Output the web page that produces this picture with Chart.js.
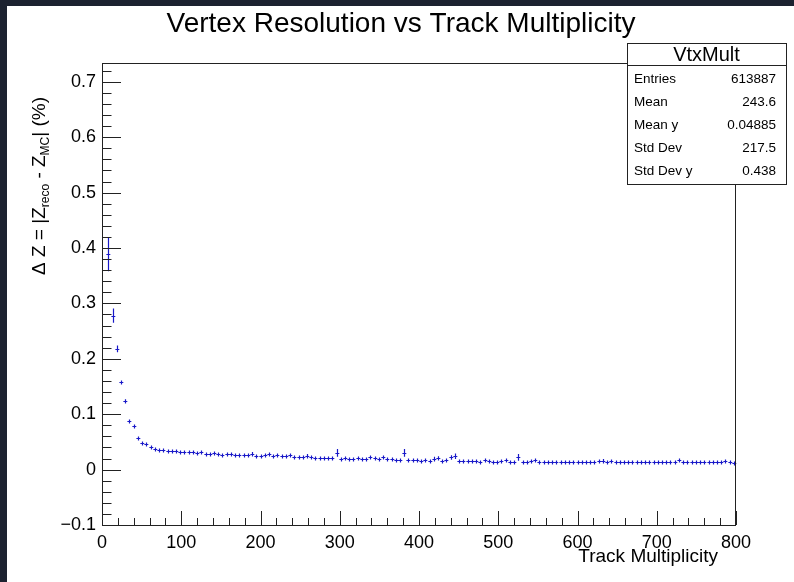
<!DOCTYPE html>
<html>
<head>
<meta charset="utf-8">
<title>Vertex Resolution vs Track Multiplicity</title>
<script src="https://cdn.jsdelivr.net/npm/chart.js@4.4.1/dist/chart.umd.min.js"></script>
<style>
  html, body { margin: 0; padding: 0; background: #fff; }
  canvas { display: block; }
</style>
</head>
<body>
<canvas id="chart" width="794" height="582"></canvas>
<script>
// profile of |Zreco - Zmc| vs number of tracks, 150 bins over 0..800
const nBins = 150;
const xMin = 0;
const xMax = 800;

const dzMean = [
  null,
  0.389, 0.278, 0.218, 0.158, 0.124, 0.088, 0.078, 0.057, 0.048, 0.047,
  0.041, 0.038, 0.036, 0.035, 0.034, 0.033, 0.033, 0.032, 0.032, 0.031,
  0.031, 0.030, 0.031, 0.029, 0.029, 0.030, 0.028, 0.027, 0.028, 0.028,
  0.027, 0.027, 0.026, 0.026, 0.029, 0.025, 0.025, 0.026, 0.028, 0.024,
  0.027, 0.024, 0.024, 0.026, 0.023, 0.023, 0.022, 0.025, 0.022, 0.021,
  0.021, 0.021, 0.021, 0.021, 0.030, 0.020, 0.021, 0.019, 0.019, 0.021,
  0.019, 0.020, 0.022, 0.021, 0.019, 0.022, 0.019, 0.019, 0.018, 0.017,
  0.030, 0.017, 0.017, 0.017, 0.016, 0.017, 0.016, 0.020, 0.021, 0.016,
  0.017, 0.022, 0.024, 0.015, 0.015, 0.015, 0.015, 0.015, 0.014, 0.017,
  0.015, 0.014, 0.014, 0.015, 0.017, 0.014, 0.014, 0.022, 0.014, 0.014,
  0.015, 0.017, 0.014, 0.014, 0.013, 0.013, 0.014, 0.013, 0.013, 0.013,
  0.013, 0.013, 0.013, 0.013, 0.013, 0.013, 0.015, 0.016, 0.013, 0.016,
  0.014, 0.013, 0.013, 0.013, 0.013, 0.013, 0.013, 0.013, 0.013, 0.013,
  0.013, 0.013, 0.013, 0.013, 0.014, 0.017, 0.014, 0.013, 0.013, 0.013,
  0.013, 0.013, 0.013, 0.013, 0.013, 0.013, 0.016, 0.013, 0.012
];

const dzErr = [
  0,
  0.031, 0.013, 0.006, 0.003, 0.003, 0.002, 0.002, 0.001, 0.001, 0.001,
  0.001, 0.001, 0.001, 0.001, 0.001, 0.001, 0.001, 0.001, 0.001, 0.001,
  0.001, 0.001, 0.001, 0.001, 0.001, 0.001, 0.001, 0.001, 0.001, 0.001,
  0.001, 0.001, 0.001, 0.001, 0.003, 0.001, 0.001, 0.001, 0.003, 0.001,
  0.002, 0.001, 0.001, 0.002, 0.001, 0.001, 0.001, 0.003, 0.001, 0.001,
  0.001, 0.001, 0.001, 0.001, 0.007, 0.001, 0.001, 0.001, 0.001, 0.001,
  0.001, 0.001, 0.002, 0.001, 0.001, 0.003, 0.001, 0.001, 0.001, 0.001,
  0.007, 0.001, 0.001, 0.001, 0.001, 0.001, 0.001, 0.003, 0.003, 0.001,
  0.001, 0.004, 0.005, 0.001, 0.001, 0.001, 0.001, 0.001, 0.001, 0.002,
  0.001, 0.001, 0.001, 0.001, 0.002, 0.001, 0.001, 0.006, 0.001, 0.001,
  0.001, 0.002, 0.001, 0.001, 0.001, 0.001, 0.001, 0.001, 0.001, 0.001,
  0.001, 0.001, 0.001, 0.001, 0.001, 0.001, 0.002, 0.003, 0.001, 0.002,
  0.001, 0.001, 0.001, 0.001, 0.001, 0.001, 0.001, 0.001, 0.001, 0.001,
  0.001, 0.001, 0.001, 0.001, 0.001, 0.003, 0.001, 0.001, 0.001, 0.001,
  0.001, 0.001, 0.001, 0.001, 0.001, 0.001, 0.002, 0.001, 0.001
];

const xTickValues = [0, 100, 200, 300, 400, 500, 600, 700, 800];
const yTickValues = [-0.1, 0, 0.1, 0.2, 0.3, 0.4, 0.5, 0.6, 0.7];

const plotTitle = 'Vertex Resolution vs Track Multiplicity';
const xTitle = 'Track Multiplicity';
const statsName = 'VtxMult';
const statsLabels = ['Entries', 'Mean', 'Mean y', 'Std Dev', 'Std Dev y'];
const statsValues = ['613887', '243.6', '0.04885', '217.5', '0.438'];

const FONT = "'Liberation Sans', Arial, Helvetica, sans-serif";
const MARK = '#1818c8';
const binW = (xMax - xMin) / nBins;

const points = [];
dzMean.forEach((v, i) => {
  if (v === null) return;
  points.push({ x: xMin + (i + 0.5) * binW, y: v, e: dzErr[i] });
});

function fmtY(v) {
  if (Math.abs(v) < 1e-9) return '0';
  return v.toFixed(1).replace('-', '\u2212');
}

// frame, inward ticks, titles and stats box drawn the ROOT way
const rootStyle = {
  id: 'rootStyle',
  beforeDraw(chart) {
    const c = chart.ctx;
    c.save();
    c.fillStyle = '#fff';
    c.fillRect(0, 0, chart.width, chart.height);
    c.fillStyle = '#1c2230';
    c.fillRect(0, 0, chart.width, 6);
    c.fillRect(0, 0, 7, chart.height);
    c.restore();
  },
  afterDatasetsDraw(chart) {
    const c = chart.ctx;
    const xs = chart.scales.x;
    const ys = chart.scales.y;
    const meta = chart.getDatasetMeta(0);
    const halfBin = Math.abs(xs.getPixelForValue(binW / 2) - xs.getPixelForValue(0));
    c.save();
    c.strokeStyle = MARK;
    c.lineWidth = 1.2;
    c.beginPath();
    meta.data.forEach((el, i) => {
      const p = points[i];
      const px = Math.round(el.x) + 0.5;
      const py = Math.round(el.y) + 0.5;
      const eTop = ys.getPixelForValue(p.y + p.e);
      const eBot = ys.getPixelForValue(p.y - p.e);
      const up = Math.max(py - eTop, 2);
      const dn = Math.max(eBot - py, 2);
      c.moveTo(px - halfBin, py);
      c.lineTo(px + halfBin - 0.3, py);
      c.moveTo(px, py - up);
      c.lineTo(px, py + dn);
    });
    c.stroke();
    c.restore();
  },
  afterDraw(chart) {
    const c = chart.ctx;
    const a = chart.chartArea;
    const xs = chart.scales.x;
    const ys = chart.scales.y;
    c.save();
    c.strokeStyle = '#222';
    c.lineWidth = 1;

    // frame
    c.strokeRect(Math.round(a.left) + 0.5, Math.round(a.top) + 0.5,
      Math.round(a.right - a.left) - 1, Math.round(a.bottom - a.top));

    // y ticks, minor every 0.02
    c.beginPath();
    for (let k = -5; k <= 36; k++) {
      const y = Math.round(ys.getPixelForValue(k * 0.02)) + 0.5;
      const len = k % 5 === 0 ? 19 : 9.5;
      c.moveTo(a.left, y);
      c.lineTo(a.left + len, y);
    }
    // x ticks, minor every 20
    for (let k = 0; k <= 40; k++) {
      const x = Math.round(xs.getPixelForValue(k * 20)) + 0.5;
      const len = k % 5 === 0 ? 14 : 7;
      c.moveTo(x, a.bottom);
      c.lineTo(x, a.bottom - len);
    }
    c.stroke();

    // title
    c.fillStyle = '#000';
    c.font = '28px ' + FONT;
    c.textAlign = 'center';
    c.textBaseline = 'alphabetic';
    c.fillText(plotTitle, 401, 32);

    // x axis title
    c.font = '19px ' + FONT;
    c.textAlign = 'right';
    c.fillText(xTitle, 718, 562);

    // y axis title with subscripts
    c.save();
    c.translate(45, 275);
    c.rotate(-Math.PI / 2);
    c.textAlign = 'left';
    const parts = [
      { t: '\u0394 Z = |Z', s: 19, d: 0 },
      { t: 'reco', s: 12, d: 4 },
      { t: ' - Z', s: 19, d: 0 },
      { t: 'MC', s: 12, d: 4 },
      { t: '| (%)', s: 19, d: 0 }
    ];
    let pos = 0;
    parts.forEach(p => {
      c.font = p.s + 'px ' + FONT;
      c.fillText(p.t, pos, p.d);
      pos += c.measureText(p.t).width;
    });
    c.restore();

    // stats box
    const bx = 627, by = 43, bw = 159, bh = 141, head = 22;
    c.fillStyle = '#fff';
    c.fillRect(bx, by, bw, bh);
    c.strokeRect(bx + 0.5, by + 0.5, bw, bh);
    c.beginPath();
    c.moveTo(bx, by + head + 0.5);
    c.lineTo(bx + bw, by + head + 0.5);
    c.stroke();
    c.fillStyle = '#000';
    c.textBaseline = 'middle';
    c.textAlign = 'center';
    c.font = '20px ' + FONT;
    c.fillText(statsName, bx + bw / 2, by + 12);
    c.font = '13.5px ' + FONT;
    statsLabels.forEach((lab, i) => {
      const y = 79 + i * 23;
      c.textAlign = 'left';
      c.fillText(lab, 634, y);
      c.textAlign = 'right';
      c.fillText(statsValues[i], 776, y);
    });
    c.restore();
  }
};

const ctx = document.getElementById('chart').getContext('2d');
const myChart = new Chart(ctx, {
  type: 'scatter',
  data: {
    datasets: [{
      label: statsName,
      data: points,
      pointRadius: 0,
      pointHoverRadius: 0,
      borderColor: MARK,
      backgroundColor: MARK
    }]
  },
  options: {
    responsive: false,
    animation: false,
    devicePixelRatio: 1,
    events: [],
    layout: { padding: { left: 0, top: 63, right: 58, bottom: 0 } },
    plugins: {
      legend: { display: false },
      tooltip: { enabled: false }
    },
    scales: {
      x: {
        type: 'linear',
        position: 'bottom',
        min: xMin,
        max: xMax,
        afterFit(scale) { scale.height = 57; },
        afterBuildTicks(scale) { scale.ticks = xTickValues.map(v => ({ value: v })); },
        grid: { display: false, drawTicks: false },
        border: { display: false },
        ticks: {
          padding: 7,
          maxRotation: 0,
          autoSkip: false,
          color: '#000',
          font: { family: FONT, size: 18 },
          callback: v => String(v)
        }
      },
      y: {
        type: 'linear',
        min: -0.1,
        max: 0.734,
        afterFit(scale) { scale.width = 102; },
        afterBuildTicks(scale) { scale.ticks = yTickValues.map(v => ({ value: v })); },
        grid: { display: false, drawTicks: false },
        border: { display: false },
        ticks: {
          padding: 6,
          autoSkip: false,
          color: '#000',
          font: { family: FONT, size: 18 },
          callback: v => fmtY(v)
        }
      }
    }
  },
  plugins: [rootStyle]
});
</script>
</body>
</html>
